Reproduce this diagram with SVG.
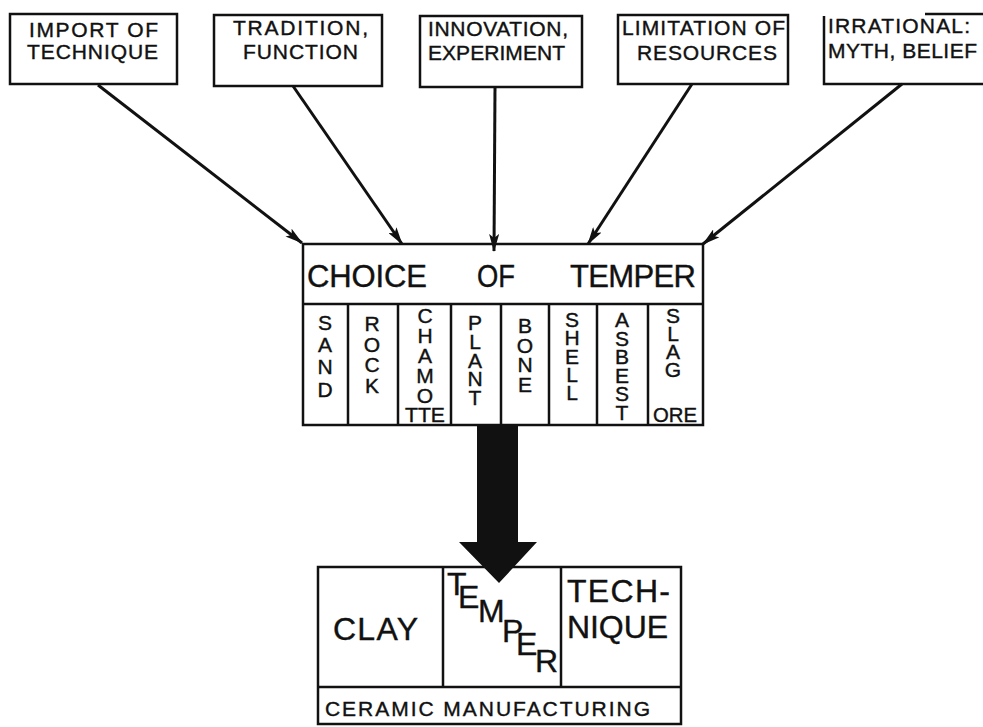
<svg xmlns="http://www.w3.org/2000/svg" width="983" height="727" viewBox="0 0 983 727">
<defs>
<marker id="ah" markerUnits="userSpaceOnUse" markerWidth="18" markerHeight="10" refX="17" refY="5" orient="auto">
<path d="M0,0 L18,5 L0,10 L4,5 Z" fill="#111"/>
</marker>
</defs>
<style>
.box{fill:#fff;stroke:#111;stroke-width:2.5}
.ln{fill:none;stroke:#111;stroke-width:2.5}
.t{font-family:"Liberation Sans",Arial,sans-serif;fill:#111;stroke:#111;stroke-width:0.4}
.s{font-size:21px}
.v{font-size:21px;text-anchor:middle}
.c{stroke:#111;stroke-width:3;fill:none;marker-end:url(#ah)}
</style>
<rect width="983" height="727" fill="#fff"/>

<g id="n-import">
<rect class="box" x="10" y="14" width="167" height="70"/>
<text class="t s" x="29" y="37" textLength="129" lengthAdjust="spacing">IMPORT OF</text>
<text class="t s" x="27" y="59" textLength="131" lengthAdjust="spacing">TECHNIQUE</text>
</g>
<g id="n-tradition">
<rect class="box" x="214" y="15" width="168" height="71"/>
<text class="t s" x="233" y="35" textLength="135" lengthAdjust="spacing">TRADITION,</text>
<text class="t s" x="243" y="59" textLength="115" lengthAdjust="spacing">FUNCTION</text>
</g>
<g id="n-innovation">
<rect class="box" x="420" y="16" width="162" height="71"/>
<text class="t s" x="428" y="36" textLength="140" lengthAdjust="spacing">INNOVATION,</text>
<text class="t s" x="428" y="60" textLength="137" lengthAdjust="spacing">EXPERIMENT</text>
</g>
<g id="n-limitation">
<rect class="box" x="618" y="15" width="170" height="69"/>
<text class="t s" x="622" y="35" textLength="163" lengthAdjust="spacing">LIMITATION OF</text>
<text class="t s" x="637" y="60" textLength="140" lengthAdjust="spacing">RESOURCES</text>
</g>
<g id="n-irrational">
<path class="ln" d="M824,16 L824,84 L983,84 M925,14 L983,14"/>
<text class="t s" x="828" y="33" textLength="142" lengthAdjust="spacing">IRRATIONAL:</text>
<text class="t s" x="828" y="58" textLength="149" lengthAdjust="spacing">MYTH, BELIEF</text>
</g>

<g id="n-choice">
<rect class="box" x="303" y="244" width="400" height="181"/>
<path class="ln" d="M303,304 H703 M348,304 V425 M398,304 V425 M451,304 V425 M501,304 V425 M549,304 V425 M597,304 V425 M648,304 V425"/>
<text class="t" font-size="31" x="307" y="287" textLength="120" lengthAdjust="spacing">CHOICE</text>
<text class="t" font-size="31" x="477" y="287" textLength="38" lengthAdjust="spacingAndGlyphs">OF</text>
<text class="t" font-size="31" x="570" y="287" textLength="126" lengthAdjust="spacing">TEMPER</text>
<text class="t v"><tspan x="325" y="330">S</tspan><tspan x="325" y="352">A</tspan><tspan x="325" y="374">N</tspan><tspan x="325" y="397">D</tspan></text>
<text class="t v"><tspan x="372" y="331">R</tspan><tspan x="372" y="352">O</tspan><tspan x="372" y="372">C</tspan><tspan x="372" y="393">K</tspan></text>
<text class="t v"><tspan x="425" y="323">C</tspan><tspan x="425" y="343">H</tspan><tspan x="425" y="363">A</tspan><tspan x="425" y="383">M</tspan><tspan x="425" y="403">O</tspan></text>
<text class="t s" x="405" y="422" textLength="40" lengthAdjust="spacingAndGlyphs">TTE</text>
<text class="t v"><tspan x="475" y="330">P</tspan><tspan x="475" y="349">L</tspan><tspan x="475" y="368">A</tspan><tspan x="475" y="386">N</tspan><tspan x="475" y="405">T</tspan></text>
<text class="t v"><tspan x="525" y="333">B</tspan><tspan x="525" y="353">O</tspan><tspan x="525" y="372">N</tspan><tspan x="525" y="392">E</tspan></text>
<text class="t v"><tspan x="572" y="327">S</tspan><tspan x="572" y="345">H</tspan><tspan x="572" y="364">E</tspan><tspan x="572" y="382">L</tspan><tspan x="572" y="400">L</tspan></text>
<text class="t v"><tspan x="622" y="327">A</tspan><tspan x="622" y="346">S</tspan><tspan x="622" y="364">B</tspan><tspan x="622" y="383">E</tspan><tspan x="622" y="401">S</tspan><tspan x="622" y="420">T</tspan></text>
<text class="t v"><tspan x="673" y="323">S</tspan><tspan x="673" y="341">L</tspan><tspan x="673" y="359">A</tspan><tspan x="673" y="377">G</tspan></text>
<text class="t s" x="653" y="422" textLength="44" lengthAdjust="spacingAndGlyphs">ORE</text>
</g>

<g id="n-ceramic">
<rect class="box" x="318" y="567" width="363" height="157"/>
<path class="ln" d="M318,687 H681 M443,567 V687 M561,567 V687"/>
<text class="t" font-size="32" x="333" y="640" textLength="85" lengthAdjust="spacing">CLAY</text>
<text class="t" font-size="32" x="567" y="602" textLength="103" lengthAdjust="spacing">TECH-</text>
<text class="t" font-size="32" x="567" y="638" textLength="101" lengthAdjust="spacing">NIQUE</text>
<text class="t" font-size="32"><tspan x="447" y="595">T</tspan><tspan x="458" y="608">E</tspan><tspan x="478" y="622">M</tspan><tspan x="502" y="642">P</tspan><tspan x="516" y="655">E</tspan><tspan x="535" y="672">R</tspan></text>
<text class="t" font-size="21" x="325" y="716" textLength="325" lengthAdjust="spacing">CERAMIC  MANUFACTURING</text>
</g>

<g id="connectors">
<line class="c" x1="98" y1="85" x2="302" y2="243"/>
<line class="c" x1="293" y1="86" x2="402" y2="244"/>
<line class="c" x1="495" y1="87" x2="494" y2="251"/>
<line class="c" x1="692" y1="84" x2="588" y2="244"/>
<line class="c" x1="902" y1="84" x2="703" y2="244"/>
<polygon points="477,425 518,425 518,542 537,542 499,583 459,542 477,542" fill="#111"/>
</g>
</svg>
